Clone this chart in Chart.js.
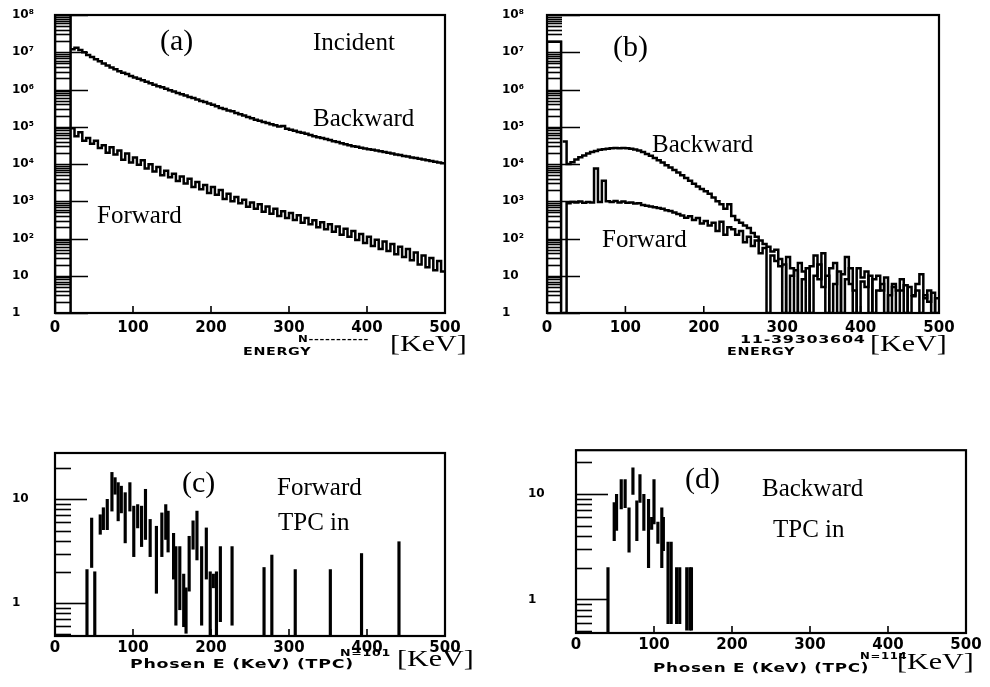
<!DOCTYPE html>
<html>
<head>
<meta charset="utf-8">
<script src="https://cdn.jsdelivr.net/npm/chart.js@4.4.0/dist/chart.umd.min.js"></script>
<style>
  body { margin: 0; background: #fff; width: 990px; height: 687px; position: relative; overflow: hidden; }
  canvas { position: absolute; }
  .lbl { position: absolute; font-family: "Liberation Serif", serif; font-size: 25px; line-height: 1; color: #000; white-space: nowrap; }
  .tag { font-size: 30px; }
  .ax { position: absolute; font-family: "DejaVu Sans", sans-serif; font-weight: bold; font-size: 11px; letter-spacing: 0.5px; line-height: 1; white-space: nowrap; transform-origin: left top; }
  .kev { position: absolute; font-family: "Liberation Serif", serif; font-size: 24px; line-height: 1; white-space: nowrap; transform: scaleX(1.25); transform-origin: left top; }
</style>
</head>
<body>
<canvas id="pa" width="475" height="365" style="left:0;top:0"></canvas>
<canvas id="pb" width="475" height="365" style="left:490px;top:0"></canvas>
<canvas id="pc" width="475" height="245" style="left:0;top:440px"></canvas>
<canvas id="pd" width="475" height="245" style="left:510px;top:440px"></canvas>

<div class="lbl tag" style="left:160px;top:25px">(a)</div>
<div class="lbl" style="left:313px;top:29px">Incident</div>
<div class="lbl" style="left:313px;top:105px">Backward</div>
<div class="lbl" style="left:97px;top:202px">Forward</div>
<div class="ax" style="left:243px;top:346px;transform:scaleX(1.3)">ENERGY</div>
<div class="ax" style="left:298px;top:335px;font-size:9px;transform:scaleX(1.3)">N-----------</div>
<div class="kev" style="left:390px;top:331px">[KeV]</div>

<div class="lbl tag" style="left:613px;top:31px">(b)</div>
<div class="lbl" style="left:652px;top:131px">Backward</div>
<div class="lbl" style="left:602px;top:226px">Forward</div>
<div class="ax" style="left:727px;top:346px;transform:scaleX(1.3)">ENERGY</div>
<div class="ax" style="left:740px;top:334px;transform:scaleX(1.45)">11-39303604</div>
<div class="kev" style="left:870px;top:331px">[KeV]</div>

<div class="lbl tag" style="left:182px;top:467px">(c)</div>
<div class="lbl" style="left:277px;top:474px">Forward</div>
<div class="lbl" style="left:278px;top:509px">TPC in</div>
<div class="ax" style="left:130px;top:658px;font-size:12px;transform:scaleX(1.45)">Phosen E (KeV) (TPC)</div>
<div class="ax" style="left:340px;top:649px;font-size:9px;transform:scaleX(1.4)">N=101</div>
<div class="kev" style="left:397px;top:646px">[KeV]</div>

<div class="lbl tag" style="left:685px;top:463px">(d)</div>
<div class="lbl" style="left:762px;top:475px">Backward</div>
<div class="lbl" style="left:773px;top:516px">TPC in</div>
<div class="ax" style="left:653px;top:662px;font-size:12px;transform:scaleX(1.4)">Phosen E (KeV) (TPC)</div>
<div class="ax" style="left:860px;top:652px;font-size:9px;transform:scaleX(1.3)">N=114</div>
<div class="kev" style="left:897px;top:649px">[KeV]</div>

<script>
// bin edges (KeV) for the histograms of (a) and (b), last one closes the step
const energyEdges = [20, 25, 30, 35, 40, 45, 50, 55, 60, 65, 70, 75, 80, 85, 90, 95, 100, 105, 110, 115,
  120, 125, 130, 135, 140, 145, 150, 155, 160, 165, 170, 175, 180, 185, 190, 195, 200, 205, 210, 215,
  220, 225, 230, 235, 240, 245, 250, 255, 260, 265, 270, 275, 280, 285, 290, 295, 300, 305, 310, 315,
  320, 325, 330, 335, 340, 345, 350, 355, 360, 365, 370, 375, 380, 385, 390, 395, 400, 405, 410, 415,
  420, 425, 430, 435, 440, 445, 450, 455, 460, 465, 470, 475, 480, 485, 490, 495, 500];

// (a) counts per bin
const aBackward = [1.2e7, 1.32e7, 1.15e7, 1.0e7, 8.5e6, 7.4e6, 6.5e6, 5.75e6, 5.0e6, 4.4e6,
  3.9e6, 3.5e6, 3.1e6, 2.8e6, 2.6e6, 2.3e6, 2.1e6, 1.95e6, 1.78e6, 1.62e6,
  1.48e6, 1.35e6, 1.23e6, 1.15e6, 1.05e6, 9.5e5, 8.9e5, 8.1e5, 7.4e5, 6.9e5,
  6.3e5, 5.9e5, 5.4e5, 4.9e5, 4.6e5, 4.2e5, 3.9e5, 3.55e5, 3.2e5, 3.0e5,
  2.75e5, 2.6e5, 2.35e5, 2.15e5, 2.0e5, 1.82e5, 1.7e5, 1.55e5, 1.45e5, 1.35e5,
  1.26e5, 1.17e5, 1.1e5, 1.02e5, 1.05e5, 8.9e4, 8.3e4, 7.8e4, 7.2e4, 6.9e4,
  6.5e4, 6.0e4, 5.6e4, 5.25e4, 5.0e4, 4.7e4, 4.4e4, 4.1e4, 3.9e4, 3.6e4,
  3.4e4, 3.2e4, 3.0e4, 2.9e4, 2.75e4, 2.6e4, 2.5e4, 2.4e4, 2.3e4, 2.2e4,
  2.1e4, 2.0e4, 1.9e4, 1.8e4, 1.75e4, 1.65e4, 1.6e4, 1.5e4, 1.45e4, 1.38e4,
  1.32e4, 1.26e4, 1.2e4, 1.15e4, 1.1e4, 1.05e4, 1.0e4];
const aForward = [9.1e4, 5.6e4, 7.1e4, 4.2e4, 5.0e4, 3.5e4, 4.2e4, 2.7e4, 3.2e4, 2.0e4,
  2.8e4, 1.8e4, 2.3e4, 1.3e4, 1.9e4, 1.1e4, 1.5e4, 9.5e3, 1.26e4, 7.6e3,
  9.8e3, 6.3e3, 8.3e3, 5.0e3, 6.6e3, 4.4e3, 5.5e3, 3.5e3, 4.6e3, 3.0e3,
  4.0e3, 2.4e3, 3.3e3, 2.1e3, 2.75e3, 1.66e3, 2.4e3, 1.5e3, 2.0e3, 1.15e3,
  1.6e3, 1.0e3, 1.3e3, 890, 1.1e3, 710, 930, 630, 830, 525,
  720, 460, 630, 400, 540, 355, 480, 316, 420, 263,
  355, 240, 310, 200, 275, 178, 240, 151, 209, 126,
  182, 112, 158, 91, 132, 76, 112, 63, 93, 52,
  83, 46, 71, 38, 60, 32, 52, 26, 42, 20,
  35, 17, 30, 14, 25, 13, 13];
// underflow box at the left of (a)
const aBoxEnergy = [0, 0, 20, 20];
const aBoxCounts = [1, 1e8, 1e8, 1];

// (b) counts per bin (1 = empty bin, on the axis)
const bBackward = [4.0e4, 1.0e4, 1.12e4, 1.32e4, 1.51e4, 1.7e4, 1.9e4, 2.1e4, 2.24e4, 2.4e4,
  2.5e4, 2.57e4, 2.63e4, 2.69e4, 2.63e4, 2.69e4, 2.63e4, 2.57e4, 2.45e4, 2.29e4,
  2.09e4, 1.86e4, 1.66e4, 1.45e4, 1.26e4, 1.1e4, 9.3e3, 8.1e3, 6.9e3, 5.9e3,
  5.0e3, 4.2e3, 3.55e3, 2.95e3, 2.5e3, 2.14e3, 1.86e3, 1.58e3, 1.26e3, 1.0e3,
  830, 630, 830, 400, 316, 263, 224, 190, 141, 112,
  89, 71, 60, 45, 50, 28, 1, 32, 16, 1,
  22, 13, 1, 18, 35, 8, 40, 1, 16, 22,
  1, 11, 32, 6, 1, 16, 9, 13, 1, 8,
  10, 4, 9, 1, 6, 4, 8, 1, 5, 3,
  6, 11, 2.5, 4, 1, 2.5, 2.5];
const bForward = [1, 890, 955, 930, 980, 910, 955, 930, 7.6e3, 955,
  3.55e3, 1.0e3, 955, 1.02e3, 930, 980, 910, 930, 870, 890,
  794, 760, 724, 692, 661, 631, 575, 550, 501, 457,
  417, 363, 398, 316, 355, 251, 295, 224, 263, 158,
  282, 126, 200, 178, 126, 158, 79, 112, 63, 89,
  40, 56, 1, 35, 25, 18, 20, 1, 10, 14,
  1, 8, 16, 1, 10, 20, 5, 10, 1, 6,
  13, 1, 8, 16, 4, 1, 7, 5, 10, 1,
  4, 6, 1, 3, 5, 1, 4, 5.6, 1, 2.8,
  4, 1, 3, 2, 3.5, 1, 1];
const bBoxEnergy = [0, 0, 18, 18];
const bBoxCounts = [1, 1.9e7, 1.9e7, 1];

// (c) Forward, TPC in: error bars (low, high) per bin
const cEnergy = [41, 47, 51, 58, 62, 67, 73, 77, 81, 85, 90, 96, 101, 106, 111, 116, 122, 130, 137, 142,
  145, 152, 155, 160, 165, 168, 172, 177, 182, 188, 194, 199, 203, 207, 212, 227, 268, 278, 308, 353, 393, 441];
const cLow = [0.48, 2.2, 0.48, 4.6, 5.1, 5.1, 7.7, 11.2, 6.2, 7.4, 3.8, 7.7, 2.8, 5.3, 3.5, 4.1, 2.8, 1.24, 2.8, 4.1,
  3.1, 1.7, 0.61, 0.86, 0.59, 0.51, 1.3, 3.3, 2.6, 0.61, 1.7, 0.48, 1.4, 0.48, 0.66, 0.61, 0.48, 0.48, 0.48, 0.48, 0.48, 0.48];
const cHigh = [2.1, 6.6, 2.0, 7.1, 8.3, 10, 18.2, 16.2, 14.5, 13.4, 11.6, 14.5, 8.6, 8.9, 8.6, 12.5, 6.4, 5.5, 7.4, 8.9,
  7.7, 4.7, 3.5, 3.5, 1.9, 1.4, 4.4, 6.2, 7.7, 3.5, 5.3, 2.0, 1.9, 2.0, 3.5, 3.5, 2.2, 2.9, 2.1, 2.1, 3.0, 3.9];

// (d) Backward, TPC in
const dEnergy = [41, 49, 52, 58, 63, 68, 73, 78, 82, 87, 93, 97, 100, 105, 110, 112, 118, 122, 129, 133, 142, 146, 148];
const dLow = [0.48, 3.6, 4.5, 7.2, 7.4, 2.8, 9.9, 3.6, 8.3, 4.5, 2.0, 4.6, 5.2, 3.4, 2.0, 2.9, 0.59, 0.59, 0.59, 0.59, 0.51, 0.51, 0.51];
const dHigh = [2.0, 8.3, 9.9, 13.7, 13.7, 7.4, 17.7, 8.6, 15.3, 9.9, 8.9, 6.0, 13.7, 5.4, 7.4, 6.0, 3.5, 3.5, 2.0, 2.0, 2.0, 2.0, 2.0];

// axis ticks
const xTicks = [0, 100, 200, 300, 400, 500];
const abDecades = [1, 10, 1e2, 1e3, 1e4, 1e5, 1e6, 1e7, 1e8];
const abDecadeLabels = ['1', '10', '10²', '10³', '10⁴', '10⁵', '10⁶', '10⁷', '10⁸'];
const cdDecades = [1, 10];
const cdDecadeLabels = ['1', '10'];

// frame, inward ticks and the log "ladder" of minor ticks
const hbookFrame = {
  id: 'hbookFrame',
  afterDatasetsDraw(chart, args, opts) {
    const ctx = chart.ctx;
    const a = chart.chartArea;
    const x = chart.scales.x, y = chart.scales.y;
    ctx.save();
    ctx.strokeStyle = '#000';
    ctx.lineWidth = 1.6;
    const lo = Math.floor(Math.log10(y.min)), hi = Math.ceil(Math.log10(y.max));
    for (let e = lo; e <= hi; e++) {
      for (let m = 1; m < 10; m++) {
        const v = m * Math.pow(10, e);
        if (v < y.min || v > y.max) continue;
        const py = Math.round(y.getPixelForValue(v)) + 0.5;
        ctx.beginPath();
        ctx.moveTo(a.left, py);
        ctx.lineTo(a.left + (m === 1 ? opts.major : opts.minor), py);
        ctx.stroke();
      }
    }
    xTicks.slice(1, -1).forEach(v => {
      const px = x.getPixelForValue(v);
      ctx.beginPath();
      ctx.moveTo(px, a.bottom);
      ctx.lineTo(px, a.bottom - 7);
      ctx.stroke();
    });
    ctx.lineWidth = 2.2;
    ctx.strokeRect(a.left, a.top, a.right - a.left, a.bottom - a.top);
    ctx.restore();
  }
};

function xAxis(h, pad) {
  return {
    type: 'linear', min: 0, max: 500, offset: false,
    afterBuildTicks: s => { s.ticks = xTicks.map(v => ({ value: v })); },
    afterFit: s => { s.height = h; },
    grid: { display: false, drawTicks: false },
    border: { display: false },
    ticks: { color: '#000', padding: pad, maxRotation: 0, autoSkip: false,
      font: { family: 'DejaVu Sans', weight: 'bold', size: 15 } }
  };
}

function yAxis(min, max, decades, labels, w) {
  return {
    type: 'logarithmic', min: min, max: max,
    afterBuildTicks: s => { s.ticks = decades.map(v => ({ value: v })); },
    afterFit: s => { s.width = w; },
    grid: { display: false, drawTicks: false },
    border: { display: false },
    ticks: { color: '#000', crossAlign: 'far', autoSkip: false,
      font: { family: 'DejaVu Sans', weight: 'bold', size: 12 },
      callback: (v, i) => labels[i] }
  };
}

function series(xs, ys, stepped) {
  return {
    data: xs.map((e, i) => ({ x: e, y: ys[i] })),
    borderColor: '#000', borderWidth: 2.5, pointRadius: 0, stepped: stepped, fill: false
  };
}

function bars(xs, lows, highs) {
  return {
    data: xs.map((e, i) => ({ x: e, y: [lows[i], highs[i]] })),
    backgroundColor: '#000', borderWidth: 0, barThickness: 2.5
  };
}

const common = {
  responsive: false, animation: false, devicePixelRatio: 1, events: [],
  plugins: { legend: { display: false }, tooltip: { enabled: false } }
};

new Chart(document.getElementById('pa'), {
  type: 'line',
  data: { datasets: [
    series(energyEdges, aBackward, true),
    series(energyEdges, aForward, true),
    series(aBoxEnergy, aBoxCounts, false)
  ] },
  options: Object.assign({}, common, {
    layout: { padding: { left: 12, top: 15, right: 30, bottom: 0 } },
    scales: { x: xAxis(52, 6), y: yAxis(1, 1e8, abDecades, abDecadeLabels, 43) },
    plugins: Object.assign({}, common.plugins, { hbookFrame: { major: 33, minor: 15 } })
  }),
  plugins: [hbookFrame]
});

new Chart(document.getElementById('pb'), {
  type: 'line',
  data: { datasets: [
    series(energyEdges, bBackward, true),
    series(energyEdges, bForward, true),
    series(bBoxEnergy, bBoxCounts, false)
  ] },
  options: Object.assign({}, common, {
    layout: { padding: { left: 12, top: 15, right: 26, bottom: 0 } },
    scales: { x: xAxis(52, 6), y: yAxis(1, 1e8, abDecades, abDecadeLabels, 45) },
    plugins: Object.assign({}, common.plugins, { hbookFrame: { major: 33, minor: 15 } })
  }),
  plugins: [hbookFrame]
});

new Chart(document.getElementById('pc'), {
  type: 'bar',
  data: { datasets: [bars(cEnergy, cLow, cHigh)] },
  options: Object.assign({}, common, {
    layout: { padding: { left: 12, top: 13, right: 30, bottom: 0 } },
    scales: { x: xAxis(49, 3), y: yAxis(0.48, 28, cdDecades, cdDecadeLabels, 43) },
    plugins: Object.assign({}, common.plugins, { hbookFrame: { major: 32, minor: 16 } })
  }),
  plugins: [hbookFrame]
});

new Chart(document.getElementById('pd'), {
  type: 'bar',
  data: { datasets: [bars(dEnergy, dLow, dHigh)] },
  options: Object.assign({}, common, {
    layout: { padding: { left: 18, top: 8, right: 19, bottom: 0 } },
    scales: { x: xAxis(52, 3), y: yAxis(0.48, 26, cdDecades, cdDecadeLabels, 48) },
    plugins: Object.assign({}, common.plugins, { hbookFrame: { major: 32, minor: 16 } })
  }),
  plugins: [hbookFrame]
});
</script>
</body>
</html>
